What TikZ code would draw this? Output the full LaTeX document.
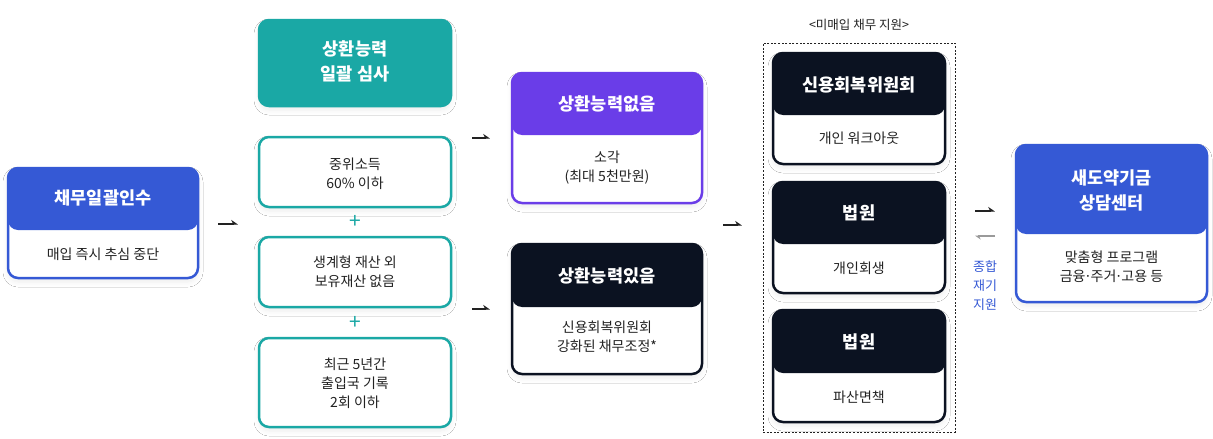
\documentclass[tikz,border=0pt]{standalone}
\usepackage{fontspec}
\setmainfont{Noto Sans CJK KR}
\usetikzlibrary{arrows.meta,shadows.blur}
\definecolor{cblue}{HTML}{3559D5}
\definecolor{tealc}{HTML}{1AA8A5}
\definecolor{purp}{HTML}{6A3DE8}
\definecolor{navy}{HTML}{0B1221}
\definecolor{txt}{HTML}{222222}
\definecolor{grayarr}{HTML}{9A9A9A}
\newcommand\tdot{\kern-0.1em·\kern-0.1em}
\begin{document}
\begin{tikzpicture}[x=1pt,y=-1pt,
  card/.style={rectangle, rounded corners=10pt, line width=2.5pt, fill=white, inner sep=0pt, outer sep=0pt,
    blur shadow={shadow xshift=0pt, shadow yshift=-4pt, shadow blur radius=5pt, shadow blur steps=8, shadow opacity=7}},
  hdr/.style 2 args={path picture={\fill[#1] ([yshift=3pt]path picture bounding box.north west) rectangle ([yshift=-#2]path picture bounding box.north east);}},
  ttl/.style={text=white, font=\bfseries\fontsize{17.5}{25}\selectfont, align=center, inner sep=0pt},
  bd/.style={text=txt, font=\fontsize{14}{19}\selectfont, align=center, inner sep=0pt},
  plussign/.style={text=tealc, font=\fontsize{21}{21}\selectfont, inner sep=0pt},
  arr/.style={line width=2pt, draw=txt, -{Stealth[harpoon,length=6pt,width=8pt]}},
  garr/.style={line width=1.6pt, draw=grayarr, -{Stealth[harpoon,length=5pt,width=7pt]}}
]
\useasboundingbox (0,0) rectangle (1213,439);
\fill[white] (0,0) rectangle (1213,439);

% column 1
\node[card, draw=cblue, hdr={cblue}{62pt}, minimum width=190pt, minimum height=110pt] (debt) at (103,223) {};
\node[ttl] (debtT) at (103,198) {채무일괄인수};
\node[bd] (debtB) at (103,254) {매입 즉시 추심 중단};

% column 2
\node[card, draw=tealc, fill=tealc, minimum width=192pt, minimum height=86pt] (rev) at (355,63) {};
\node[ttl] (revT) at (355,61) {상환능력\\일괄 심사};
\node[card, draw=tealc, minimum width=192pt, minimum height=70pt] (c1) at (355,172) {};
\node[bd] (c1t) at (355,174) {중위소득\\60\% 이하};
\node[plussign] (p1) at (355,222) {+};
\node[card, draw=tealc, minimum width=192pt, minimum height=70pt] (c2) at (355,272) {};
\node[bd] (c2t) at (355,272) {생계형 재산 외\\보유재산 없음};
\node[plussign] (p2) at (355,323) {+};
\node[card, draw=tealc, minimum width=192pt, minimum height=89pt] (c3) at (355,382.5) {};
\node[bd] (c3t) at (355,383) {최근 5년간\\출입국 기록\\2회 이하};

% column 3
\node[card, draw=purp, hdr={purp}{62pt}, minimum width=190pt, minimum height=130pt] (no) at (607,138) {};
\node[ttl] (noT) at (607,104) {상환능력없음};
\node[bd] (noB) at (607,168) {소각\\(최대 5천만원)};
\node[card, draw=navy, hdr={navy}{63pt}, minimum width=190pt, minimum height=130pt] (yes) at (607,309) {};
\node[ttl] (yesT) at (607,276) {상환능력있음};
\node[bd] (yesB) at (607,337) {신용회복위원회\\강화된 채무조정*};

% column 4
\node[draw=txt, dash pattern=on 2pt off 1.6pt, line width=0.8pt, minimum width=192pt, minimum height=389pt, inner sep=0pt] (grp) at (859,237.5) {};
\node[text=txt, font=\fontsize{12.5}{15}\selectfont, inner sep=0pt] (grpL) at (859,25) {<미매입 채무 지원>};
\node[card, draw=navy, hdr={navy}{62pt}, minimum width=172pt, minimum height=111pt] (ccrs) at (859,108.5) {};
\node[ttl] (ccrsT) at (859,85) {신용회복위원회};
\node[bd] (ccrsB) at (859,138) {개인 워크아웃};
\node[card, draw=navy, hdr={navy}{62pt}, minimum width=172pt, minimum height=111pt] (court1) at (859,237.5) {};
\node[ttl] (court1T) at (859,213) {법원};
\node[bd] (court1B) at (859,268) {개인회생};
\node[card, draw=navy, hdr={navy}{63pt}, minimum width=172pt, minimum height=112pt] (court2) at (859,366) {};
\node[ttl] (court2T) at (859,342) {법원};
\node[bd] (court2B) at (859,397) {파산면책};

% column 5
\node[card, draw=cblue, hdr={cblue}{89pt}, minimum width=191pt, minimum height=157pt] (fund) at (1111.5,223.5) {};
\node[ttl] (fundT) at (1111.5,190) {새도약기금\\상담센터};
\node[bd] (fundB) at (1111.5,267) {맞춤형 프로그램\\금융\tdot 주거\tdot 고용 등};
\node[text=cblue, font=\fontsize{13}{19}\selectfont, align=center, inner sep=0pt] (side) at (985,286) {종합\\재기\\지원};

% arrows
\coordinate (a1s) at (218,224); \coordinate (a1e) at (238,224);
\coordinate (a2s) at (472,138); \coordinate (a2e) at (490,138);
\coordinate (a3s) at (472,309); \coordinate (a3e) at (490,309);
\coordinate (a4s) at (723,225); \coordinate (a4e) at (742,225);
\coordinate (a5s) at (975,211); \coordinate (a5e) at (995,211);
\coordinate (a6s) at (995,236); \coordinate (a6e) at (975,236);
\draw[arr] (a1s) -- (a1e);
\draw[arr] (a2s) -- (a2e);
\draw[arr] (a3s) -- (a3e);
\draw[arr] (a4s) -- (a4e);
\draw[arr] (a5s) -- (a5e);
\draw[garr] (a6s) -- (a6e);
\end{tikzpicture}
\end{document}
